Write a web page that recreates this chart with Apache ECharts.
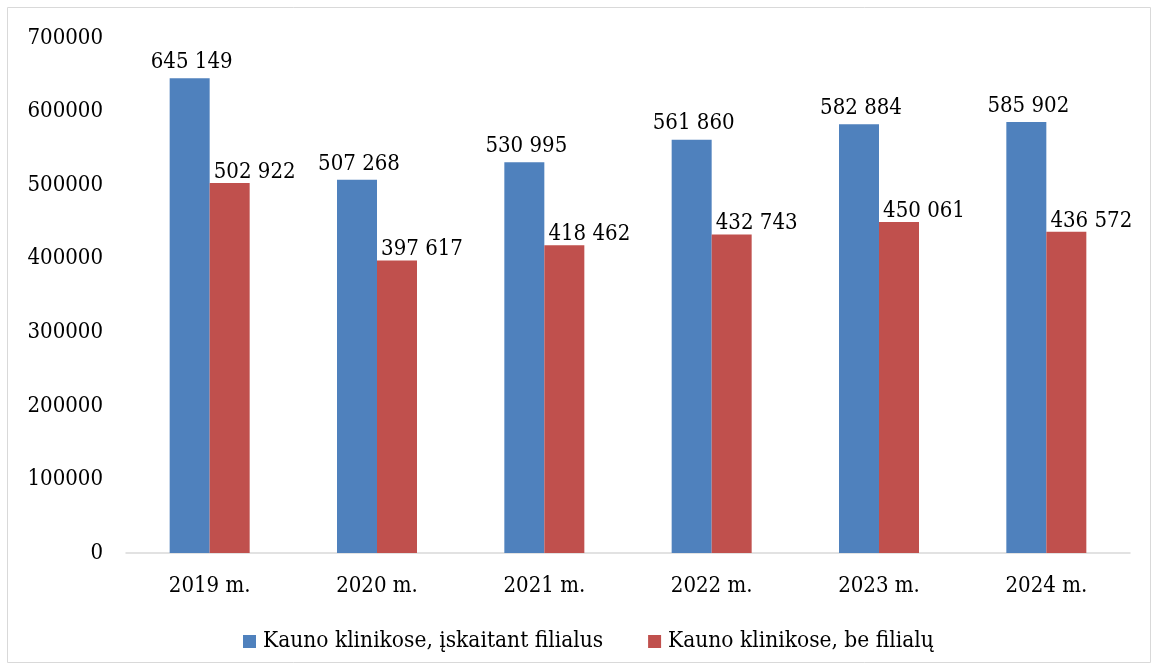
<!DOCTYPE html>
<html>
<head>
<meta charset="utf-8">
<script src="https://cdn.jsdelivr.net/npm/echarts@6/dist/echarts.min.js"></script>
<style>
  html, body { margin: 0; padding: 0; background: #fff; }
  #main { width: 1158px; height: 669px; }
</style>
</head>
<body>
<div id="main"></div>
<script>
var years = ['2019 m.', '2020 m.', '2021 m.', '2022 m.', '2023 m.', '2024 m.'];
var withBranches = [645149, 507268, 530995, 561860, 582884, 585902];
var withoutBranches = [502922, 397617, 418462, 432743, 450061, 436572];
var seriesNames = ['Kauno klinikose, įskaitant filialus', 'Kauno klinikose, be filialų'];

var font = 'DejaVu Serif Condensed';

function fmt(v) {
    return String(v).replace(/\B(?=(\d{3})+(?!\d))/g, ' ');
}

var myChart = echarts.init(document.getElementById('main'));
myChart.setOption({
    animation: false,
    graphic: [{
        type: 'rect',
        shape: { x: 7.5, y: 7.5, width: 1143, height: 655 },
        style: { fill: 'none', stroke: '#d9d9d9', lineWidth: 1 }
    }],
    legend: {
        data: seriesNames,
        top: 625,
        left: 238,
        itemWidth: 13,
        itemHeight: 13,
        itemGap: 45,
        icon: 'rect',
        textStyle: { fontFamily: font, fontSize: 22.5, color: '#000', padding: [0, 0, 0, 2] }
    },
    grid: { left: 126, right: 28, top: 38, bottom: 116 },
    xAxis: {
        type: 'category',
        data: years,
        axisLine: { lineStyle: { color: '#d9d9d9', width: 1.5 } },
        axisTick: { show: false },
        axisLabel: { fontFamily: font, fontSize: 22, color: '#000', margin: 22 }
    },
    yAxis: {
        type: 'value',
        min: 0,
        max: 700000,
        interval: 100000,
        splitLine: { show: false },
        axisLine: { show: false },
        axisTick: { show: false },
        axisLabel: {
            fontFamily: font, fontSize: 22, color: '#000', margin: 23,
            formatter: function (v) { return String(v); }
        }
    },
    series: [{
        name: seriesNames[0],
        type: 'bar',
        data: withBranches,
        barWidth: 40,
        barGap: '0%',
        itemStyle: { color: '#4F81BD' },
        label: {
            show: true, position: 'top', distance: 5, offset: [2, 0],
            fontFamily: font, fontSize: 22, color: '#000',
            formatter: function (p) { return fmt(p.value); }
        }
    }, {
        name: seriesNames[1],
        type: 'bar',
        data: withoutBranches,
        barWidth: 40,
        itemStyle: { color: '#C0504D' },
        label: {
            show: true, position: 'top', distance: 0, offset: [25, 0],
            fontFamily: font, fontSize: 22, color: '#000',
            formatter: function (p) { return fmt(p.value); }
        }
    }]
});
</script>
</body>
</html>
